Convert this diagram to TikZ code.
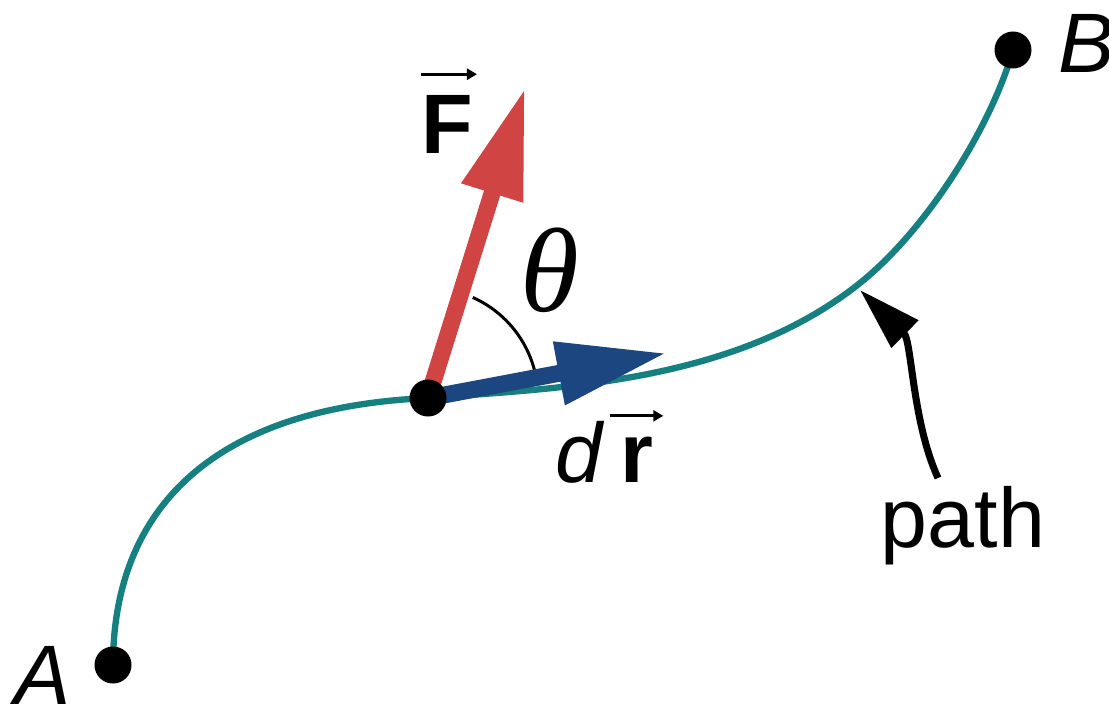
\documentclass[tikz,border=0pt]{standalone}
\usepackage{fontspec}
\setmainfont{Liberation Sans}
\newfontfamily\greekfont{Liberation Serif}
\usepackage{xcolor}
\usepackage{tikz}
\usetikzlibrary{arrows.meta}

\definecolor{pathteal}{RGB}{22,128,128}
\definecolor{forcered}{RGB}{208,68,68}
\definecolor{stepblue}{RGB}{28,70,128}

\begin{document}
\begin{tikzpicture}[
  x=0.01cm, y=0.01cm,
  dot/.style={circle, fill=black, minimum size=0.37cm, inner sep=0pt},
  lbl/.style={font=\fontsize{24}{28}\selectfont, inner sep=0pt},
  trail/.style={draw=pathteal, line width=1.8pt},
  vec/.style={line width=4.8pt, -{Triangle[length=1.1cm, width=0.6cm]}},
  hat/.style={line width=0.85pt, -{Triangle[length=0.1cm, width=0.11cm]}},
  pointer/.style={line width=2pt, -{Triangle[length=0.63cm, width=0.37cm]}}
]
\useasboundingbox (0,0) rectangle (1109,711);

% Points
\coordinate (a) at (113,46);
\coordinate (p) at (428,313);
\coordinate (q) at (860,428);
\coordinate (b) at (1013,661);
\coordinate (ftip) at (525,623);
\coordinate (drtip) at (667,358);
\coordinate (ptail) at (938,233);
\coordinate (ptip) at (860,421);

% Path
\draw[trail] (a) .. controls (113,191) and (200,303) .. (p)
  .. controls (560,323) and (735,328) .. (q)
  .. controls (925,480) and (990,581) .. (b);

% Vectors
\draw[vec, forcered] (p) -- (ftip);
\draw[vec, stepblue] (p) -- (drtip);
\draw[line width=0.85pt] ([shift={(15:1.1cm)}]p) arc[start angle=15, end angle=66, radius=1.1cm];

% Pointer
\draw[pointer] (ptail) .. controls (912,290) and (912,370) .. (ptip);

% Nodes
\node[dot] (dotA) at (a) {};
\node[dot] (dotP) at (p) {};
\node[dot] (dotB) at (b) {};

% Labels
\node[lbl, anchor=base west] (labA) at (14,7) {\textit{A}};
\node[lbl, anchor=base west] (labB) at (1058,639) {\textit{B}};
\node[lbl, anchor=base west] (labF) at (421,558) {\textbf{F}};
\node[lbl, anchor=base west] (labd) at (555,229) {\textit{d}};
\node[lbl, anchor=base west] (labr) at (620,229) {\textbf{r}};
\node[lbl] (labtheta) at (550,441) {\fontsize{34}{38}\selectfont\greekfont\itshape θ};
\node[lbl, anchor=base west] (labpath) at (880,164) {path};

% Vector marks
\draw[hat] ([yshift=0.2cm]labF.north west) -- ([yshift=0.2cm, xshift=0.03cm]labF.north east);
\draw[hat] ([yshift=0.2cm, xshift=-0.1cm]labr.north west) -- ([yshift=0.2cm, xshift=0.09cm]labr.north east);

\end{tikzpicture}
\end{document}
